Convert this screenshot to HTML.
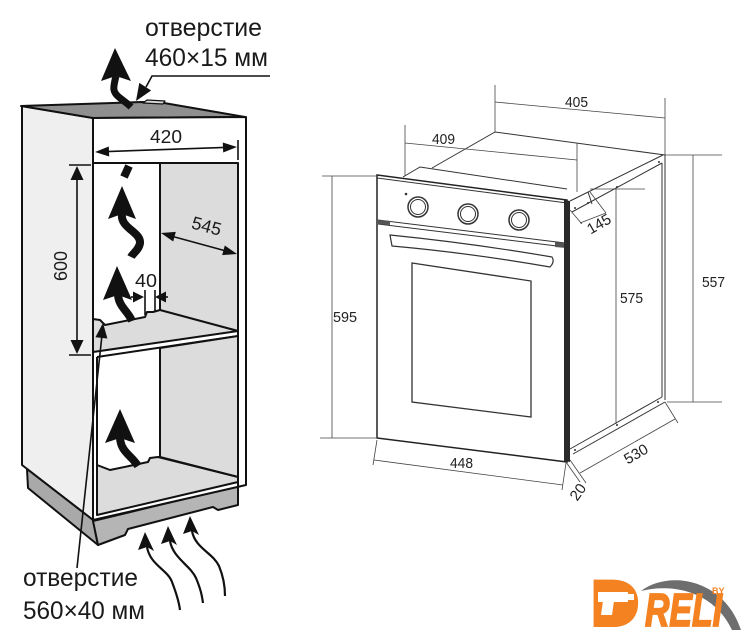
<!DOCTYPE html>
<html>
<head>
<meta charset="utf-8">
<style>
html,body{margin:0;padding:0;background:#fff;}
svg{display:block;}
text{font-family:"Liberation Sans", "DejaVu Sans", sans-serif;}
</style>
</head>
<body>
<svg width="745" height="640" viewBox="0 0 745 640" xmlns="http://www.w3.org/2000/svg">
<rect width="745" height="640" fill="#fff"/>

<!-- ================= CABINET ================= -->
<g stroke="#111" stroke-width="2" stroke-linejoin="round">
  <polygon points="22,106 93,118 93,520 22,465" fill="#efefef"/>
  <polygon points="27,469 93,520 98,545 28,488" fill="#a9a9a9"/>
  <polygon points="93,521 238,486 238,505 218,510 213,507 128,529 125,535 98,545" fill="#b5b5b5"/>
  <polygon points="21,106 142,102 164,103 245,117 93,118" fill="#8f8f8f"/>
  <polygon points="143,103 147,100 165,101 163,104" fill="#d8d8d8" stroke-width="1.2"/>
  <polygon points="93,118 246,117 246,485 93,520" fill="#fff"/>
  <polygon points="160,163 238,163 238,331 160,311" fill="#dcdcdc"/>
  <polygon points="93,319 100,320 105,325 145,317 147,312 153,312 160,310 238,331 93,352" fill="#dcdcdc"/>
  <line x1="97" y1="357" x2="238" y2="336"/>
  <polygon points="160,348 238,336 238,477 160,457" fill="#dcdcdc"/>
  <polygon points="97,465 110,470 148,462 150,458 158,457 238,477 238,482 97,515" fill="#dcdcdc"/>
  <line x1="97" y1="357" x2="97" y2="515"/>
  <line x1="93" y1="163" x2="238" y2="163"/>
  <line x1="238" y1="163" x2="238" y2="486"/>
</g>

<g stroke="#111" stroke-width="1.6" fill="none">
  <line x1="100" y1="151.8" x2="232" y2="147.2"/>
  <line x1="238" y1="140" x2="238" y2="160"/>
  <line x1="166" y1="234.6" x2="232" y2="252.6"/>
  <line x1="77" y1="175" x2="77" y2="345"/>
  <line x1="69" y1="165" x2="91" y2="165"/>
  <line x1="69" y1="355" x2="91" y2="355"/>
  <line x1="131" y1="297" x2="140" y2="297"/>
  <line x1="159" y1="297" x2="168" y2="297"/>
  <line x1="145" y1="290" x2="145" y2="315"/>
  <line x1="155" y1="290" x2="155" y2="311"/>
  <polyline points="146,87 152,76 270,76"/>
  <line x1="77" y1="568" x2="102" y2="335"/>
</g>
<g fill="#111">
  <polygon points="95,152 109.2,156.5 108.8,146.5"/>
  <polygon points="237,147 223.2,152.5 222.8,142.5"/>
  <polygon points="161,233 173.2,241.5 175.8,231.9"/>
  <polygon points="237,254 222.2,255.1 224.8,245.5"/>
  <polygon points="77,166 70.5,180 83.5,180"/>
  <polygon points="77,354 70.5,340 83.5,340"/>
  <polygon points="144,297 133,291.5 133,302.5"/>
  <polygon points="155,297 166,291.5 166,302.5"/>
  <polygon points="136,101 151.1,90.5 139.3,82.9"/>
  <polygon points="103,323 107.4,338.5 95.4,337.3"/>
</g>

<g fill="#111">
  <polygon points="115,48 131,81 116,76 101,81"/>
  <polygon points="122,186 136,219 122,214 108,219"/>
  <polygon points="117,266 132,300 118,295 103,300"/>
  <polygon points="120,409 135,443 120,438 105,443"/>
  <polygon points="145,532 154,551 147,547 138,550"/>
  <polygon points="168,526 177,545 170,541 161,544"/>
  <polygon points="190,516 199,535 192,531 183,534"/>
</g>
<g fill="none" stroke="#111" stroke-linecap="butt">
  <path d="M116,76 C113,88 112,92 120,98 C125,102 128,104 131,107" stroke-width="7"/>
  <path d="M129,166 L124,177" stroke-width="8"/>
  <path d="M122,214 C120,228 141,232 140,243 C139,250 133,253 131,257" stroke-width="8"/>
  <path d="M118,295 C119,307 128,311 132,321" stroke-width="8"/>
  <path d="M120,438 C121,452 131,455 138,466" stroke-width="8"/>
  <path d="M147,547 C150,565 168,570 172,582 C177,595 179,602 180,610" stroke-width="2.2"/>
  <path d="M170,541 C173,558 190,565 196,578 C201,590 202,596 203,603" stroke-width="2.2"/>
  <path d="M192,531 C195,548 213,553 219,566 C224,578 225,588 225,596" stroke-width="2.2"/>
</g>

<g fill="#1a1a1a">
  <text x="145" y="36" font-size="25" textLength="117" lengthAdjust="spacingAndGlyphs">отверстие</text>
  <text x="145" y="66" font-size="25" textLength="123" lengthAdjust="spacingAndGlyphs">460×15 мм</text>
  <text x="23" y="586" font-size="25" textLength="115" lengthAdjust="spacingAndGlyphs">отверстие</text>
  <text x="23" y="619" font-size="25" textLength="122" lengthAdjust="spacingAndGlyphs">560×40 мм</text>
  <text x="150" y="143" font-size="18" textLength="32" lengthAdjust="spacingAndGlyphs">420</text>
  <text x="0" y="0" font-size="18" text-anchor="middle" transform="translate(205,232) rotate(15)">545</text>
  <text x="0" y="0" font-size="18" text-anchor="middle" transform="translate(67,266) rotate(-90)">600</text>
  <text x="135" y="287" font-size="18" textLength="22" lengthAdjust="spacingAndGlyphs">40</text>
</g>

<!-- ================= OVEN ================= -->
<g fill="none" stroke="#333" stroke-width="1">
  <polyline points="432,168 495,132 665,155"/>
  <polyline points="403,177 420,167 567,189"/>
  <line x1="570" y1="201" x2="663" y2="155"/>
  <line x1="572" y1="212" x2="662" y2="163"/>
  <line x1="662" y1="163" x2="662" y2="397"/>
  <line x1="665" y1="155" x2="665" y2="400"/>
  <line x1="570" y1="449" x2="662" y2="397"/>
  <line x1="573" y1="454" x2="665" y2="402"/>
  <line x1="588" y1="192" x2="592" y2="204"/>
</g>
<g fill="#333">
  <circle cx="575" cy="208" r="1"/>
  <circle cx="588" cy="203" r="1"/>
  <circle cx="617" cy="187" r="1"/>
  <circle cx="659" cy="162" r="1"/>
  <circle cx="658" cy="402" r="1"/>
  <circle cx="617" cy="425" r="1"/>
  <circle cx="575" cy="450" r="1"/>
</g>
<polygon points="377,175 567,200 567,462 377,438" fill="#fff" stroke="#222" stroke-width="1.5"/>
<g fill="none" stroke="#333" stroke-width="1">
  <line x1="377" y1="178" x2="567" y2="203"/>
  <line x1="378" y1="220" x2="565" y2="243"/>
  <line x1="378" y1="224" x2="565" y2="247"/>
  <path d="M390,235 Q470,243 552,257 Q555,262 550,267 Q470,253 392,246 Z" fill="#fff" stroke-width="1.2"/>
  <polygon points="412,263 531,281 531,417 412,402" stroke-width="1.3"/>
  <circle cx="418" cy="207" r="10" stroke-width="1.5"/>
  <circle cx="418" cy="207" r="7.5"/>
  <circle cx="468" cy="214" r="10" stroke-width="1.5"/>
  <circle cx="468" cy="214" r="7.5"/>
  <circle cx="519" cy="220" r="10" stroke-width="1.5"/>
  <circle cx="519" cy="220" r="7.5"/>
</g>
<circle cx="406" cy="194" r="1.3" fill="#333"/>
<polygon points="378,220 390,221 390,225 378,224" fill="#555"/>
<polygon points="555,242 566,243 566,248 555,247" fill="#555"/>
<polygon points="564,200 570,201 570,462 564,461" fill="#2a2a2a"/>

<g fill="none" stroke="#444" stroke-width="0.8">
  <line x1="495" y1="85" x2="495" y2="132"/>
  <line x1="665" y1="98" x2="665" y2="155"/>
  <line x1="495" y1="102" x2="665" y2="118"/>
  <line x1="405" y1="125" x2="405" y2="176"/>
  <line x1="577" y1="143" x2="577" y2="192"/>
  <line x1="405" y1="143" x2="577" y2="160"/>
  <line x1="322" y1="176" x2="377" y2="176"/>
  <line x1="332" y1="176" x2="332" y2="438"/>
  <line x1="320" y1="438" x2="377" y2="438"/>
  <line x1="377" y1="440" x2="373" y2="465"/>
  <line x1="566" y1="463" x2="562" y2="490"/>
  <line x1="374" y1="460" x2="563" y2="485"/>
  <line x1="566" y1="462" x2="580" y2="482"/>
  <line x1="570" y1="460" x2="586" y2="483"/>
  <line x1="665" y1="402" x2="678" y2="423"/>
  <line x1="580" y1="473" x2="675" y2="419"/>
  <line x1="590" y1="189" x2="645" y2="189"/>
  <line x1="616" y1="189" x2="616" y2="424"/>
  <line x1="665" y1="155" x2="722" y2="155"/>
  <line x1="693" y1="155" x2="693" y2="402"/>
  <line x1="667" y1="402" x2="722" y2="402"/>
  <line x1="570" y1="210" x2="582" y2="224"/>
  <line x1="590" y1="192" x2="606" y2="213"/>
  <line x1="580" y1="223" x2="606" y2="213"/>
</g>
<g fill="#222" font-size="15">
  <text x="565" y="107" textLength="23" lengthAdjust="spacingAndGlyphs">405</text>
  <text x="432" y="144" textLength="23" lengthAdjust="spacingAndGlyphs">409</text>
  <text x="333" y="322" textLength="24" lengthAdjust="spacingAndGlyphs">595</text>
  <text x="450" y="468" textLength="23" lengthAdjust="spacingAndGlyphs">448</text>
  <text x="620" y="303" textLength="23" lengthAdjust="spacingAndGlyphs">575</text>
  <text x="702" y="287" textLength="23" lengthAdjust="spacingAndGlyphs">557</text>
  <text x="0" y="5" text-anchor="middle" transform="translate(599,224) rotate(-30)">145</text>
  <text x="0" y="5" text-anchor="middle" transform="translate(636,454) rotate(-30)">530</text>
  <text x="0" y="5" text-anchor="middle" transform="translate(578,492) rotate(-55)">20</text>
</g>

<!-- ================= LOGO ================= -->
<path d="M641,591 C668,570 724,578 741,630 L732,630 C714,591 672,583 641,591 Z" fill="#6e6e6e"/>
<text x="590" y="626" font-size="66" font-weight="bold" fill="#f58220" stroke="#f58220" stroke-width="2" textLength="50" lengthAdjust="spacingAndGlyphs">D</text>
<rect x="600" y="586" width="28" height="32" fill="#f58220"/>
<g fill="#fff">
  <rect x="598" y="592" width="30" height="10"/>
  <rect x="627" y="594" width="7" height="6"/>
  <polygon points="603,601 614,601 612,615 601,615"/>
</g>
<text x="645" y="626" font-size="46" font-weight="bold" font-style="italic" fill="#f58220" stroke="#f58220" stroke-width="1.8" textLength="77" lengthAdjust="spacingAndGlyphs">RELI</text>
<text x="712" y="594" font-size="9" font-weight="bold" fill="#f58220">BY</text>
</svg>
</body>
</html>
